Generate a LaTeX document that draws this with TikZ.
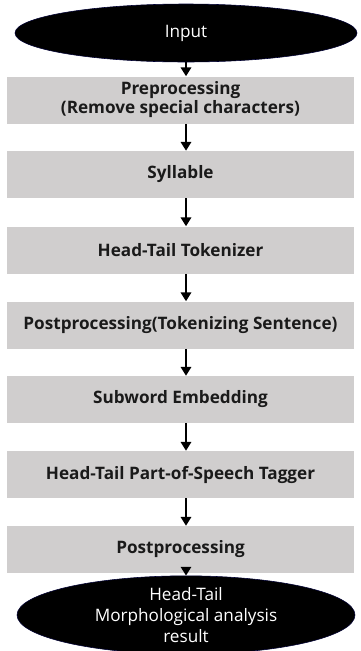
\documentclass[tikz,border=0pt]{standalone}
\usepackage{fontspec}
\setmainfont{Open Sans}
\usetikzlibrary{positioning,arrows.meta,shapes.geometric}
\definecolor{boxgray}{HTML}{D0CECE}
\definecolor{ink}{HTML}{1A1A1A}

\begin{document}
\begin{tikzpicture}[
  font=\fontsize{12}{14}\selectfont,
  >={Triangle[length=2.2mm,width=2.6mm]},
  stage/.style={rectangle,fill=boxgray,minimum width=8.675cm,minimum height=1.175cm,
                inner sep=0pt,align=center,font=\fontsize{12.2}{13.5}\selectfont\bfseries,text=ink},
  term/.style={ellipse,fill=black,draw=black!80!blue,line width=0.4pt,inner sep=0pt,
               text=white,align=center,font=\fontsize{12.2}{15}\selectfont},
  flow/.style={->,line width=1.3pt,draw=black},
]
\useasboundingbox (0,0) rectangle (9,-16.275);

%=================================================================== ENDS ===
\node[term,minimum width=8.55cm,minimum height=1.45cm] (input) at (4.65,-0.825) {Input};
\node[term,minimum width=8.45cm,minimum height=1.35cm] (result) at (4.65,-15.375)
  {Head-Tail\\Morphological analysis\\result};

%================================================================= STAGES ===
\node[stage] (prep)   at (4.5125,-2.5)    {Preprocessing\\(Remove special characters)};
\node[stage] (syll)   at (4.5125,-4.3625) {Syllable};
\node[stage] (tok)    at (4.5125,-6.25)   {Head-Tail Tokenizer};
\node[stage] (post1)  at (4.5125,-8.125)  {Postprocessing(Tokenizing Sentence)};
\node[stage] (embed)  at (4.5125,-9.9875) {Subword Embedding};
\node[stage] (tagger) at (4.5125,-11.8625){Head-Tail Part-of-Speech Tagger};
\node[stage] (post2)  at (4.5125,-13.7375){Postprocessing};

% arrows between stages
\foreach \a/\b in {input/prep,prep/syll,syll/tok,tok/post1,post1/embed,embed/tagger,
                   tagger/post2,post2/result}
  \draw[flow] (\a.south -| 4.65,0) -- (\b.north -| 4.65,0);

\end{tikzpicture}
\end{document}
